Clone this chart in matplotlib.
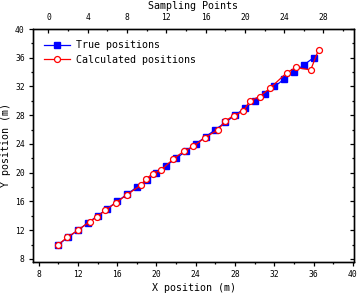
import matplotlib.pyplot as plt
from matplotlib.ticker import MultipleLocator

plt.rcParams['font.family'] = ['DejaVu Sans Mono']

# True positions (m)
true_x = [10, 11, 12, 13, 14, 15, 16, 17, 18, 19, 20, 21, 22, 23, 24, 25, 26,
          27, 28, 29, 30, 31, 32, 33, 34, 35, 36]
true_y = [10, 11, 12, 13, 14, 15, 16, 17, 18, 19, 20, 21, 22, 23, 24, 25, 26,
          27, 28, 29, 30, 31, 32, 33, 34, 35, 36]

# Calculated positions (m)
calc_x = [10.0, 10.9, 12.0, 13.2, 13.9, 14.8, 15.9, 17.0, 18.4, 18.9, 19.6,
          20.5, 21.7, 22.8, 23.75, 24.9, 26.3, 27.0, 27.85, 28.85, 29.5, 30.5,
          31.55, 33.25, 34.2, 35.7, 36.5]
calc_y = [10.0, 11.0, 12.0, 13.2, 13.8, 14.8, 15.85, 16.95, 18.25, 19.1, 19.85,
          20.4, 21.9, 23.0, 23.65, 24.85, 26.0, 27.2, 27.95, 28.55, 30.0, 30.6,
          31.75, 33.9, 34.65, 34.3, 37.1]

fig = plt.figure(figsize=(3.6, 2.96), dpi=100)
ax = fig.add_axes([0.092, 0.115, 0.891, 0.787])

ax.plot(true_x, true_y, color='blue', lw=0.9, marker='s', ms=4,
        mfc='blue', mec='blue', label='True positions')
ax.plot(calc_x, calc_y, color='red', lw=0.9, marker='o', ms=4.3,
        mfc='white', mec='red', mew=0.9, label='Calculated positions')

ax.set_xlim(7.44, 40.1)
ax.set_ylim(7.58, 40.0)
ax.xaxis.set_major_locator(MultipleLocator(4))
ax.xaxis.set_minor_locator(MultipleLocator(2))
ax.yaxis.set_major_locator(MultipleLocator(4))
ax.yaxis.set_minor_locator(MultipleLocator(2))
ax.tick_params(which='both', direction='out', labelsize=5.8, width=0.9,
               color='black')
ax.tick_params(which='major', length=3, pad=3)
ax.tick_params(which='minor', length=1.6)
ax.set_xlabel('X position (m)', fontsize=7.2, labelpad=3)
ax.set_ylabel('Y position (m)', fontsize=7.2, labelpad=3)

# right side inward ticks
ax_r = ax.twinx()
ax_r.set_ylim(ax.get_ylim())
ax_r.yaxis.set_major_locator(MultipleLocator(4))
ax_r.yaxis.set_minor_locator(MultipleLocator(2))
ax_r.tick_params(which='both', direction='in', labelright=False, width=0.9)
ax_r.tick_params(which='major', length=3)
ax_r.tick_params(which='minor', length=1.6)

# top axis: sampling points
ax_t = ax.twiny()
ax_t.set_xlim(7.44 - 9, 40.1 - 9)
ax_t.xaxis.set_major_locator(MultipleLocator(4))
ax_t.xaxis.set_minor_locator(MultipleLocator(2))
ax_t.tick_params(which='both', direction='in', labelsize=5.8, width=0.9)
ax_t.tick_params(which='major', length=3, pad=5)
ax_t.tick_params(which='minor', length=1.6)
ax_t.set_xlabel('Sampling Points', fontsize=7.2, labelpad=3)

for a in (ax, ax_r, ax_t):
    for s in a.spines.values():
        s.set_linewidth(0.9)

ax.legend(loc='upper left', frameon=False, fontsize=7.2, handlelength=2.6,
          handletextpad=0.6, borderaxespad=0.7, labelspacing=0.45)

fig.savefig('out.png', dpi=100)
